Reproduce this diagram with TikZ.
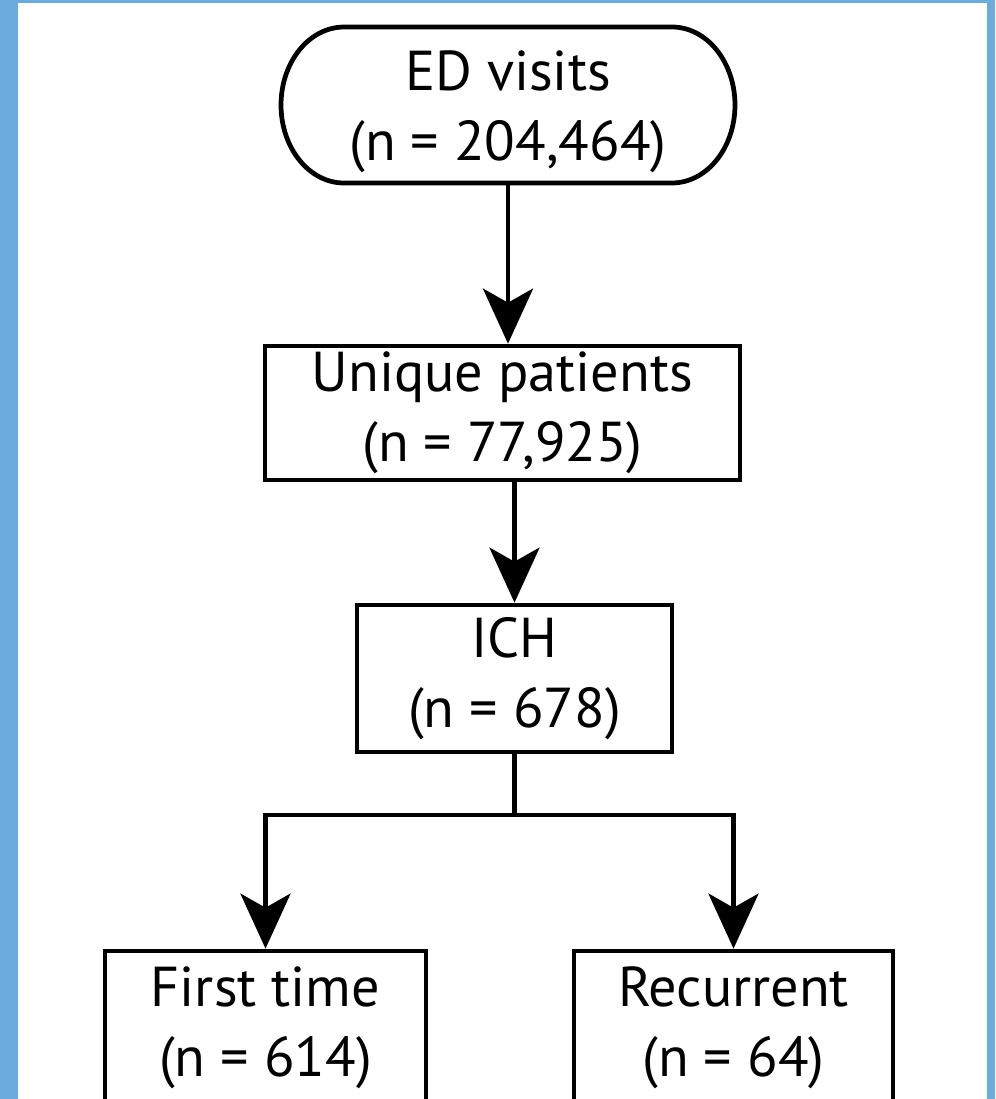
\documentclass[tikz,border=0pt]{standalone}
\usepackage{fontspec}
\setmainfont{PT Sans}
\usetikzlibrary{arrows.meta}
\definecolor{frameblue}{RGB}{108,171,221}

\begin{document}
\begin{tikzpicture}[x=0.02cm, y=-0.02cm,
  box/.style={draw, line width=2.7pt, align=center, inner sep=0pt, font=\fontsize{32}{40}\selectfont},
  flow/.style={line width=2.7pt, -{Stealth[length=1.1cm, width=1cm, inset=0.28cm]}}]
  \clip (0,0) rectangle (995,1099);
  \fill[frameblue] (0,0) rectangle (995,1099);
  \fill[white] (18,3) rectangle (987,1110);
  % boxes
  \node[box, draw=none, minimum width=9.16cm, minimum height=3.2cm] (ed) at (508,112) {ED visits\\(n = 204,464)};
  \draw[line width=2.7pt] (344,27) -- (672,27) arc[start angle=90, end angle=-90, x radius=1.26cm, y radius=1.56cm]
    -- (344,183) arc[start angle=270, end angle=90, x radius=1.26cm, y radius=1.56cm] -- cycle;
  \node[box, minimum width=9.5cm, minimum height=2.68cm] (unique) at (502.5,413) {Unique patients\\(n = 77,925)};
  \node[box, minimum width=6.3cm, minimum height=2.94cm] (ich) at (514.5,678.5) {ICH\\(n = 678)};
  \node[box, minimum width=6.42cm, minimum height=3.06cm] (first) at (265.5,1027.5) {First time\\(n = 614)};
  \node[box, minimum width=6.38cm, minimum height=3.06cm] (recur) at (733.5,1027.5) {Recurrent\\(n = 64)};
  % arrows
  \draw[flow] (ed.south |- 0,185) -- (ed.south |- unique.north);
  \draw[flow] (ich.north |- unique.south) -- (ich.north);
  \coordinate (split) at (514.5,815);
  \draw[line width=2.7pt] (ich.south) -- (split);
  \draw[flow] (split) -| (first.north);
  \draw[flow] (split) -| (recur.north);
\end{tikzpicture}
\end{document}
